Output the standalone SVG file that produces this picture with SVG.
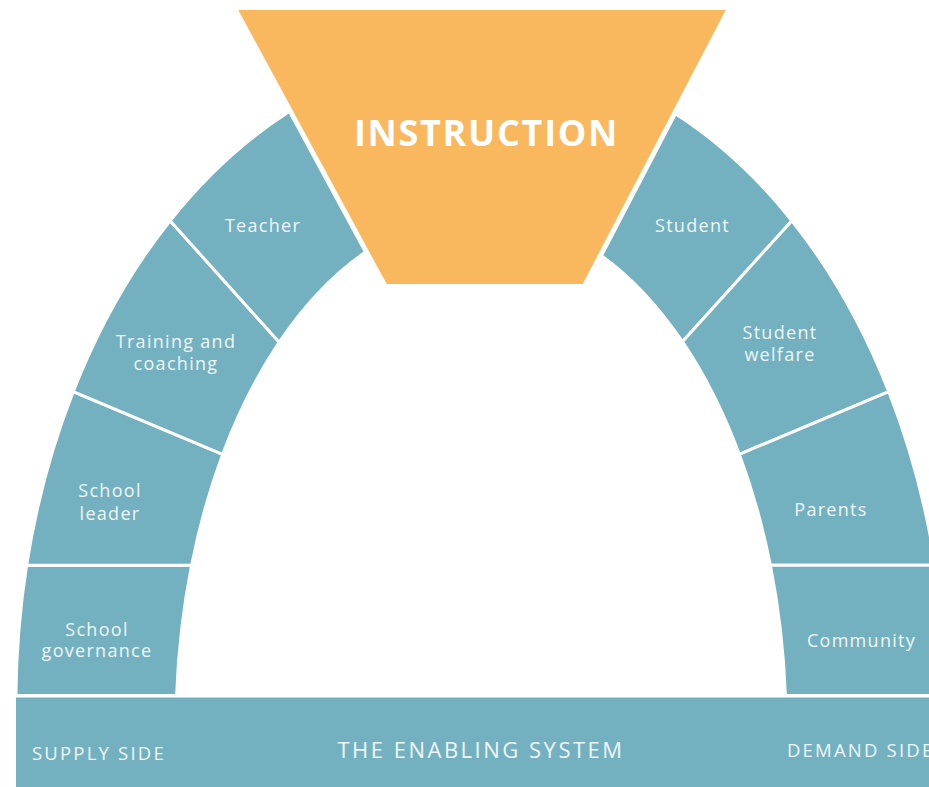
<svg xmlns="http://www.w3.org/2000/svg" width="929" height="787" viewBox="0 0 929 787">
  <style>
    .seg { fill: #74B1C0; stroke: #FFFFFF; stroke-width: 3; stroke-linejoin: round; }
    .lbl { font-family: "Open Sans", "Liberation Sans", sans-serif; font-size: 18px; fill: #EEF6F8; text-anchor: middle; letter-spacing: 1.3px; }
    .base { font-family: "Open Sans", "Liberation Sans", sans-serif; font-size: 18.5px; fill: #EEF6F8; letter-spacing: 2.2px; }
    .title { font-family: "Open Sans", "Liberation Sans", sans-serif; font-size: 36px; font-weight: 700; fill: #FFFFFF; text-anchor: middle; letter-spacing: 1.7px; }
  </style>
  <rect width="929" height="787" fill="#FFFFFF"/>

  <g id="enabling-system">
    <rect x="16" y="697.5" width="913" height="89.5" fill="#74B1C0"/>
    <text class="base" x="32" y="760">SUPPLY SIDE</text>
    <text class="base" x="481" y="757.7" text-anchor="middle" style="font-size:22px;letter-spacing:2.5px">THE ENABLING SYSTEM</text>
    <text class="base" x="787" y="757.3">DEMAND SIDE</text>
  </g>

  <g id="school-governance">
    <path class="seg" d="M15.9,695.5 A465.2,651 0 0 1 26.6,565.3 L191.6,565.3 A305,513.8 0 0 0 176.6,695.5 Z"/>
    <text class="lbl" x="97" y="635.7">School</text>
    <text class="lbl" x="97" y="657.3">governance</text>
  </g>
  <g id="school-leader">
    <path class="seg" d="M26.6,565.3 A465.2,651 0 0 1 73.2,391.7 L222.7,454.3 A305,513.8 0 0 0 191.6,565.3 Z"/>
    <text class="lbl" x="110" y="497.3">School</text>
    <text class="lbl" x="110" y="520">leader</text>
  </g>
  <g id="training-and-coaching">
    <path class="seg" d="M73.2,391.7 A465.2,651 0 0 1 170.1,220.7 L279.2,342.3 A305,513.8 0 0 0 222.7,454.3 Z"/>
    <text class="lbl" x="176" y="347.7">Training and</text>
    <text class="lbl" x="176" y="370">coaching</text>
  </g>
  <g id="teacher">
    <path class="seg" d="M170.1,220.7 A465.2,651 0 0 1 289.4,111.6 L365.45,252.1 A305,513.8 0 0 0 279.2,342.3 Z"/>
    <text class="lbl" x="263" y="232.3">Teacher</text>
  </g>

  <g id="student">
    <path class="seg" d="M675.5,113.7 A465.2,651 0 0 1 791.9,220.7 L682.4,341.7 A305,513.8 0 0 0 601.5,255.6 Z"/>
    <text class="lbl" x="692.5" y="232.3">Student</text>
  </g>
  <g id="student-welfare">
    <path class="seg" d="M791.9,220.7 A465.2,651 0 0 1 888.8,391.7 L739.3,454.3 A305,513.8 0 0 0 682.4,341.7 Z"/>
    <text class="lbl" x="780" y="339">Student</text>
    <text class="lbl" x="780" y="361">welfare</text>
  </g>
  <g id="parents">
    <path class="seg" d="M888.8,391.7 A465.2,651 0 0 1 935.4,565.3 L770.4,565.3 A305,513.8 0 0 0 739.3,454.3 Z"/>
    <text class="lbl" x="831" y="515.7">Parents</text>
  </g>
  <g id="community">
    <path class="seg" d="M935.4,565.3 A465.2,651 0 0 1 946.1,695.5 L785.4,695.5 A305,513.8 0 0 0 770.4,565.3 Z"/>
    <text class="lbl" x="861.5" y="647.3">Community</text>
  </g>

  <g id="instruction">
    <polygon points="238.3,10 725.7,10 582.7,284 386.7,284" fill="#F9B85D"/>
    <text class="title" x="486.5" y="145.7">INSTRUCTION</text>
  </g>

  <g id="connectors"></g>
</svg>
